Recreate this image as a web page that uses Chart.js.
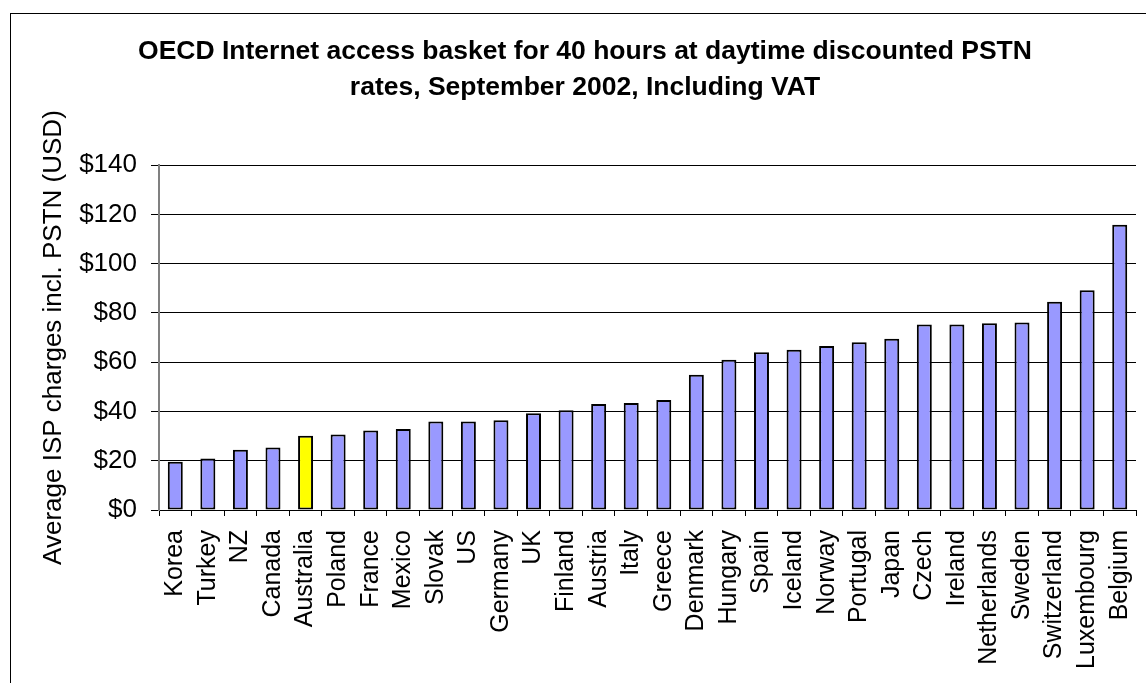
<!DOCTYPE html>
<html lang="en">
<head>
    <meta charset="UTF-8">
    <title>OECD Internet access basket</title>
    <script src="https://cdn.jsdelivr.net/npm/chart.js"></script>
    <style>
        body { margin: 0; background: #ffffff; }
        .wrap { position: relative; width: 1146px; height: 683px; }
    </style>
</head>
<body>
    <div class="wrap">
        <canvas id="basketChart"></canvas>
    </div>

    <script>
        // Data
        const countries = ['Korea', 'Turkey', 'NZ', 'Canada', 'Australia', 'Poland', 'France', 'Mexico',
            'Slovak', 'US', 'Germany', 'UK', 'Finland', 'Austria', 'Italy', 'Greece', 'Denmark',
            'Hungary', 'Spain', 'Iceland', 'Norway', 'Portugal', 'Japan', 'Czech', 'Ireland',
            'Netherlands', 'Sweden', 'Switzerland', 'Luxembourg', 'Belgium'];
        const charges = [19.6, 20.9, 24.5, 25.4, 30.1, 30.6, 32.3, 32.9, 35.9, 35.9, 36.4, 39.3,
            40.5, 43.0, 43.4, 44.6, 54.9, 61.0, 64.0, 65.0, 66.6, 68.1, 69.5, 75.3, 75.3,
            75.8, 76.1, 84.5, 89.2, 115.8];
        const highlighted = 'Australia';
        const yTicks = [0, 20, 40, 60, 80, 100, 120, 140];

        const titleLines = ['OECD Internet access basket for 40 hours at daytime discounted PSTN',
            'rates, September 2002, Including VAT'];
        const yTitle = 'Average ISP charges incl. PSTN (USD)';

        const fontFamily = "'Liberation Sans', Arial, sans-serif";
        const barColors = countries.map(c => c === highlighted ? '#FFFF00' : '#9999FF');

        // outer frame like the original spreadsheet chart
        const framePlugin = {
            id: 'frame',
            beforeDraw(chart) {
                const ctx = chart.ctx;
                ctx.save();
                ctx.strokeStyle = '#000000';
                ctx.lineWidth = 1;
                ctx.strokeRect(10.5, 13.5, 2000, 2000);
                ctx.restore();
            }
        };

        new Chart(document.getElementById('basketChart'), {
            type: 'bar',
            data: {
                labels: countries,
                datasets: [{
                    data: charges,
                    backgroundColor: barColors,
                    borderColor: '#000000',
                    borderWidth: 2,
                    borderSkipped: false,
                    barPercentage: 0.46,
                    categoryPercentage: 1
                }]
            },
            plugins: [framePlugin],
            options: {
                responsive: true,
                maintainAspectRatio: false,
                animation: false,
                layout: { padding: { top: 0, left: 34, right: 10, bottom: 0 } },
                plugins: {
                    legend: { display: false },
                    tooltip: { enabled: false },
                    title: {
                        display: true,
                        text: titleLines,
                        color: '#000000',
                        font: { family: fontFamily, size: 26.5, weight: 'bold', lineHeight: 1.36 },
                        padding: { top: 34, bottom: 59 }
                    }
                },
                scales: {
                    x: {
                        afterFit(scale) {
                            scale.height = 173;
                            scale.paddingLeft = 0;
                            scale.paddingRight = 0;
                        },
                        grid: {
                            offset: true,
                            drawOnChartArea: false,
                            drawTicks: true,
                            tickLength: 6,
                            color: '#000000'
                        },
                        border: { color: '#000000', width: 1 },
                        ticks: {
                            minRotation: 90,
                            maxRotation: 90,
                            autoSkip: false,
                            padding: 14,
                            color: '#000000',
                            font: { family: fontFamily, size: 25 }
                        }
                    },
                    y: {
                        min: 0,
                        max: yTicks[yTicks.length - 1],
                        afterFit(scale) {
                            scale.width = 125;
                            scale.paddingTop = 0;
                            scale.paddingBottom = 0;
                        },
                        afterBuildTicks(scale) { scale.ticks = yTicks.map(v => ({ value: v })); },
                        grid: {
                            color: '#000000',
                            lineWidth: 1,
                            tickLength: 8
                        },
                        border: { color: '#808080', width: 2 },
                        ticks: {
                            padding: 14,
                            color: '#000000',
                            font: { family: fontFamily, size: 26 },
                            callback: v => '$' + v
                        },
                        title: {
                            display: true,
                            text: yTitle,
                            color: '#000000',
                            font: { family: fontFamily, size: 26 },
                            padding: { top: 4, bottom: 0 }
                        }
                    }
                }
            }
        });
    </script>
</body>
</html>
